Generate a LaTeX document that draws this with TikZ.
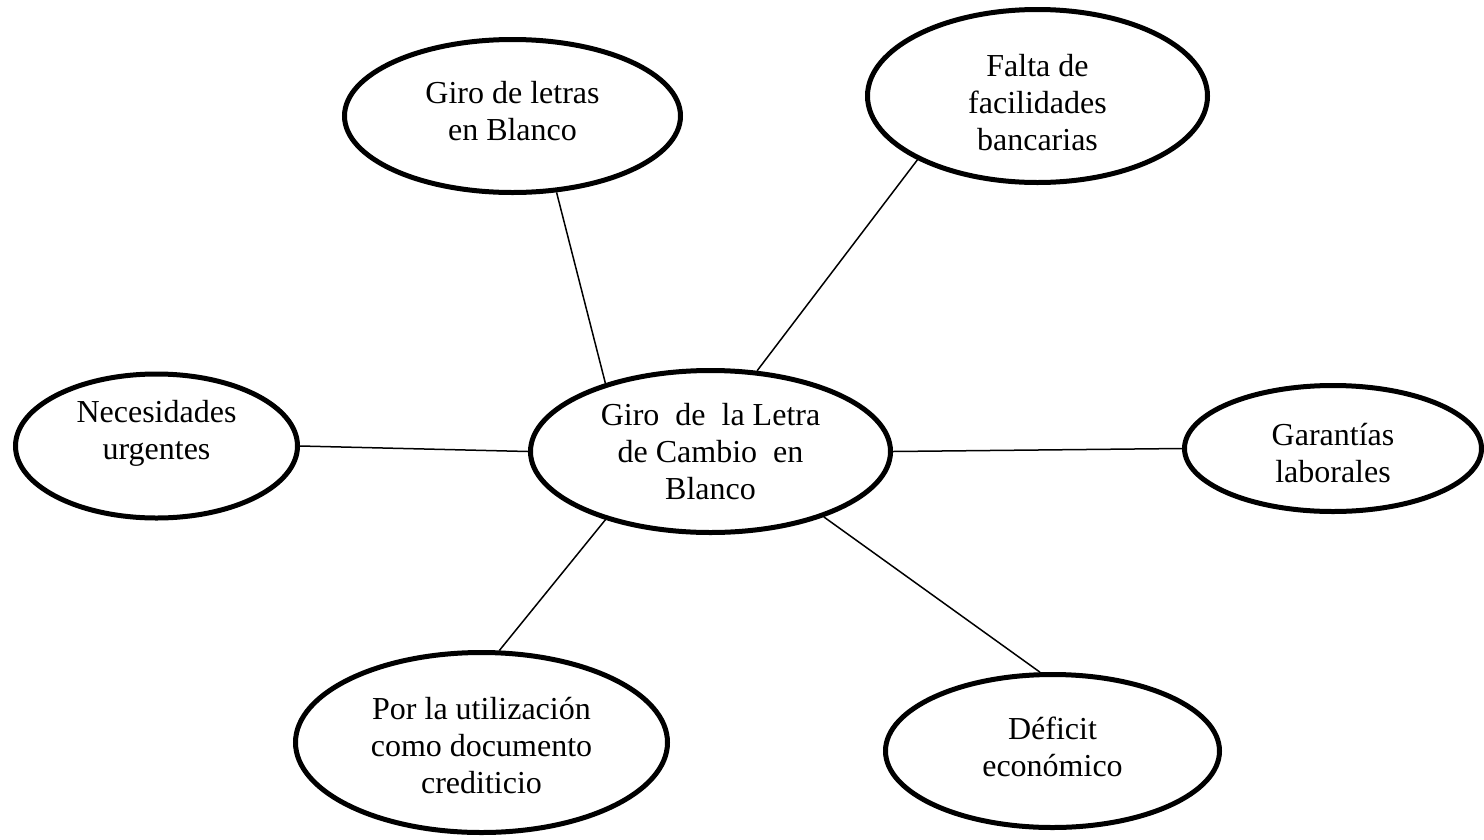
\documentclass[tikz,border=0pt]{standalone}
\usepackage{fontspec}
\setmainfont{Liberation Serif}
\usetikzlibrary{shapes.geometric}
\begin{document}
\begin{tikzpicture}[x=1pt,y=-1pt,
  bubble/.style={ellipse, draw=black, line width=5pt, inner sep=0pt, fill=white},
  btext/.style={font=\fontsize{32}{37}\selectfont, align=center, inner sep=0pt},
  link/.style={draw=black, line width=1.5pt}]
\useasboundingbox (0,0) rectangle (1484,839);
\node[bubble, minimum width=336pt, minimum height=153pt,
  label={[btext,yshift=4.5pt]center:{Giro de letras\\en Blanco}}] (tl) at (512.5,116) {};
\node[bubble, minimum width=340pt, minimum height=173pt,
  label={[btext,yshift=-6.5pt]center:{Falta de\\facilidades\\bancarias}}] (tr) at (1037.5,96) {};
\node[bubble, minimum width=282pt, minimum height=144pt,
  label={[btext,yshift=12.5pt]center:{Necesidades\\urgentes}}] (lf) at (156.5,446) {};
\node[bubble, minimum width=360pt, minimum height=162pt,
  label={[btext]center:{Giro~ de~ la Letra\\de Cambio~ en\\Blanco}}] (ct) at (710.5,451.5) {};
\node[bubble, minimum width=297pt, minimum height=126pt,
  label={[btext,yshift=-5pt]center:{Garantías\\laborales}}] (rt) at (1333,448.5) {};
\node[bubble, minimum width=372pt, minimum height=180pt,
  label={[btext,yshift=-3.5pt]center:{Por la utilización\\como documento\\crediticio}}] (bl) at (481.5,742.5) {};
\node[bubble, minimum width=334pt, minimum height=153pt,
  label={[btext,yshift=4.5pt]center:{Déficit\\económico}}] (br) at (1052.5,751) {};
\draw[link] (tl.-60) -- (ct.147.4);
\draw[link] (tr.-152) -- (ct.60.4);
\draw[link] (lf.0) -- (ct.180);
\draw[link] (ct.0) -- (rt.180);
\draw[link] (ct.-147.7) -- (bl.79.5);
\draw[link] (ct.-30) -- (br.99);
\end{tikzpicture}
\end{document}
